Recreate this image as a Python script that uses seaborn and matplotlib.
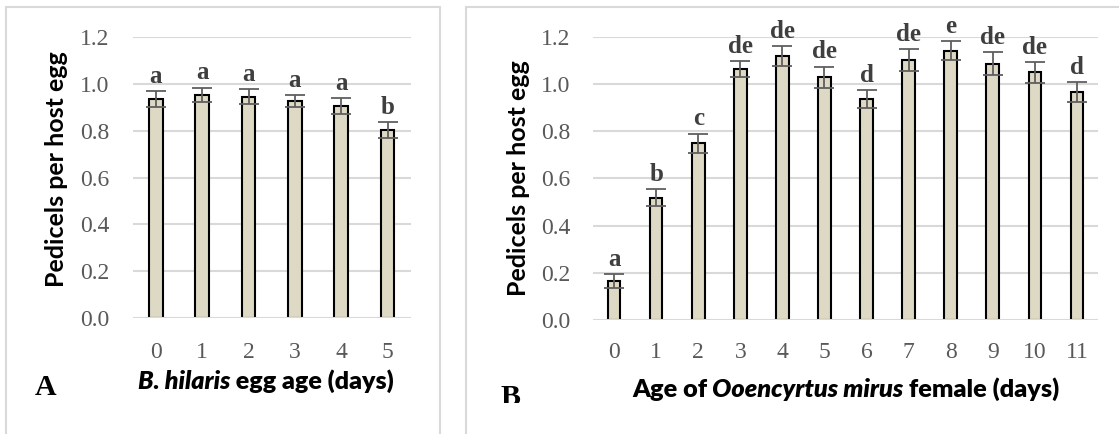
import matplotlib
matplotlib.use("Agg")
import matplotlib.pyplot as plt
import seaborn as sns
from matplotlib.transforms import Bbox

# ---- data -------------------------------------------------------------
egg_age_days = ["0", "1", "2", "3", "4", "5"]
egg_age_mean = [0.934, 0.953, 0.945, 0.926, 0.905, 0.803]
egg_age_se = [0.033, 0.030, 0.031, 0.026, 0.033, 0.034]
egg_age_groups = ["a", "a", "a", "a", "a", "b"]

female_age_days = ["0", "1", "2", "3", "4", "5", "6", "7", "8", "9", "10", "11"]
female_age_mean = [0.165, 0.518, 0.748, 1.062, 1.119, 1.028, 0.937, 1.100,
                   1.141, 1.086, 1.049, 0.966]
female_age_se = [0.030, 0.035, 0.041, 0.034, 0.042, 0.045, 0.037, 0.047,
                 0.040, 0.048, 0.044, 0.042]
female_age_groups = ["a", "b", "c", "de", "de", "de", "d", "de", "e", "de",
                     "de", "d"]

y_ticks = [0.0, 0.2, 0.4, 0.6, 0.8, 1.0, 1.2]

# ---- styling ----------------------------------------------------------
W, H = 1119, 434
BAR_FILL = "#ddd9c4"
GRID = "#d9d9d9"
TICK_GRAY = "#595959"
ERR_GRAY = "#5f5f5f"
LETTER_GRAY = "#3f3f3f"
SERIF = "Liberation Serif"
SANS = "Lato"

sns.set_theme(style="white")
plt.rcParams["font.family"] = [SANS, "DejaVu Sans"]

fig = plt.figure(figsize=(W / 100, H / 100), dpi=100)
fig.patch.set_facecolor("white")


def fx(x):
    return x / W


def fy(y):
    return 1 - y / H


def axes_px(left, top, right, bottom):
    return fig.add_axes([fx(left), fy(bottom), (right - left) / W,
                         (bottom - top) / H])


# panel frames
frame_kw = dict(color=GRID, lw=1.5, transform=fig.transFigure, zorder=0)
fig.add_artist(plt.Line2D([fx(6), fx(6)], [fy(7), 0], **frame_kw))
fig.add_artist(plt.Line2D([fx(6), fx(440)], [fy(7), fy(7)], **frame_kw))
fig.add_artist(plt.Line2D([fx(440), fx(440)], [fy(7), 0], **frame_kw))
fig.add_artist(plt.Line2D([fx(466), fx(466)], [fy(7), 0], **frame_kw))
fig.add_artist(plt.Line2D([fx(466), 1], [fy(7), fy(7)], **frame_kw))


def draw_panel(ax, days, means, ses, groups, xpad, ypad):
    sns.barplot(x=days, y=means, order=days, color=BAR_FILL, saturation=1,
                width=0.3, edgecolor="black", linewidth=1.5, errorbar=None,
                ax=ax, zorder=2)
    pos = list(range(len(days)))
    ax.errorbar(pos, means, yerr=ses, fmt="none", ecolor=ERR_GRAY,
                elinewidth=1.3, capsize=7.5, capthick=1.3, zorder=3)
    for p, m, s, g in zip(pos, means, ses, groups):
        ax.annotate(g, xy=(p, m + s), xytext=(0, 6), textcoords="offset points",
                    ha="center", va="baseline", fontsize=18, fontweight="bold",
                    family=SERIF, color=LETTER_GRAY, annotation_clip=False)
    ax.set_ylim(0, 1.2)
    ax.set_xlim(-0.5, len(days) - 0.5)
    ax.set_yticks(y_ticks)
    ax.set_yticklabels([f"{t:.1f}" for t in y_ticks])
    for t in y_ticks:
        ax.axhline(t, color=GRID, lw=1.5, zorder=1 if t > 0 else 4)
    for sp in ax.spines.values():
        sp.set_visible(False)
    ax.set_xlabel("")
    ax.set_ylabel("")
    ax.tick_params(axis="both", length=0, labelsize=17, labelcolor=TICK_GRAY)
    ax.tick_params(axis="x", pad=xpad)
    ax.tick_params(axis="y", pad=ypad)
    for lab in ax.get_xticklabels() + ax.get_yticklabels():
        lab.set_family(SERIF)
    ax.set_facecolor("none")


ax_a = axes_px(132.7, 36.7, 410.7, 318.3)
draw_panel(ax_a, egg_age_days, egg_age_mean, egg_age_se, egg_age_groups,
           xpad=17, ypad=17)

ax_b = axes_px(593, 36.7, 1098, 320)
draw_panel(ax_b, female_age_days, female_age_mean, female_age_se,
           female_age_groups, xpad=16, ypad=16.5)

# y-axis titles
for cx, cy in [(56.7, 169), (518, 178)]:
    fig.text(fx(cx), fy(cy), "Pedicels per host egg", rotation=90,
             ha="center", va="center", fontsize=18, fontweight="bold",
             family=SANS, color="black")


def mixed_label(x, y, segments, size):
    """Write a heavy x-axis title whose segments switch between upright and italic."""
    prev = None
    for txt, style in segments:
        kw = dict(fontsize=size, fontweight=800, fontstyle=style,
                  family=SANS, color="black")
        if prev is None:
            prev = fig.text(fx(x), fy(y), txt, ha="left", va="baseline", **kw)
        else:
            prev = ax_b.annotate(txt, xy=(1, 0), xycoords=prev,
                                 ha="left", va="bottom",
                                 annotation_clip=False, **kw)


mixed_label(138, 389, [("B. hilaris", "italic"),
                       (" egg age (days)", "normal")], 18.0)
mixed_label(632, 397, [("Age of", "normal"),
                       (" Ooencyrtus mirus", "italic"),
                       (" female (days)", "normal")], 18.2)

# panel letters
fig.text(fx(35), fy(395), "A", ha="left", va="baseline", fontsize=21.5,
         fontweight="bold", family=SERIF, color="black")
letter_b = fig.text(fx(500.5), fy(405), "B", ha="left", va="baseline",
                    fontsize=21.5, fontweight="bold", family=SERIF,
                    color="black")
letter_b.set_clip_on(True)
letter_b.set_clip_box(Bbox([[0, H - 403], [W, H]]))

fig.savefig("out.png", dpi=100)
